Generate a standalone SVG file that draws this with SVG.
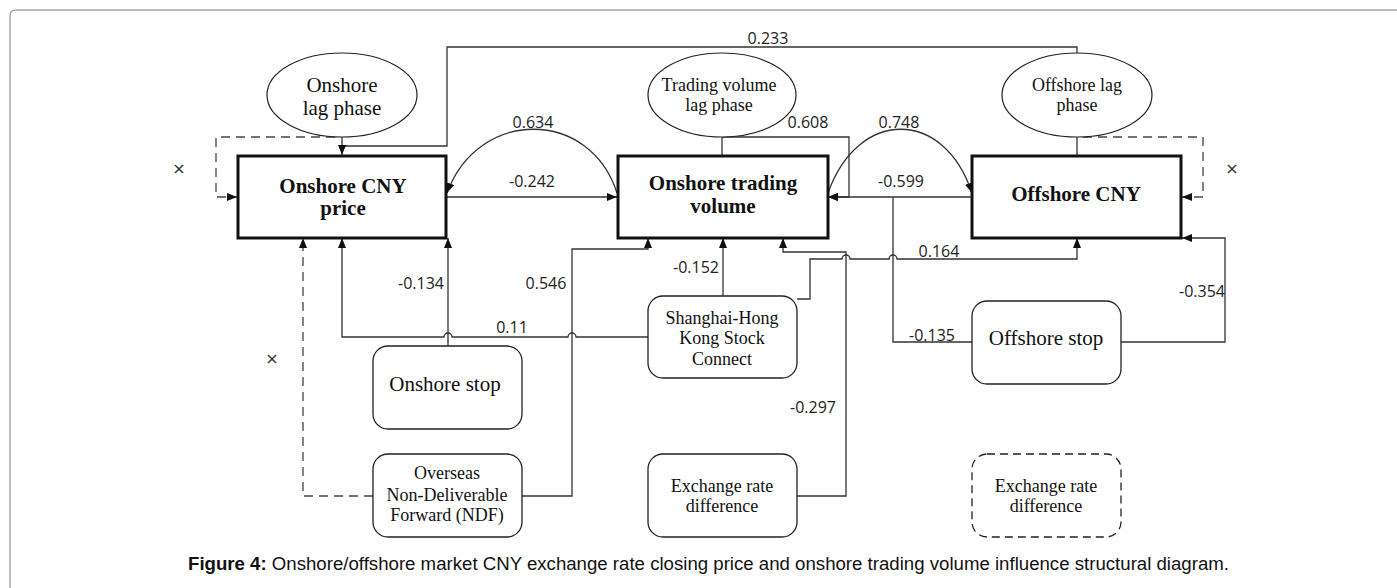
<svg xmlns="http://www.w3.org/2000/svg" width="1397" height="588" viewBox="0 0 1397 588">
<style>
.frame{fill:none;stroke:#a8a8a8;stroke-width:1.5}
.ell{fill:#fff;stroke:#222;stroke-width:1.2}
.bold{fill:#fff;stroke:#111;stroke-width:3}
.rbox{fill:#fff;stroke:#222;stroke-width:1.3}
.rdash{fill:#fff;stroke:#222;stroke-width:1.3;stroke-dasharray:8 5}
.c{fill:none;stroke:#333;stroke-width:1.3}
.cd{fill:none;stroke:#444;stroke-width:1.3;stroke-dasharray:9 6}
.a{marker-end:url(#ah)}
.t{font-family:"Liberation Serif","Times New Roman",serif;fill:#111;text-anchor:middle}
.t21{font-size:21px}
.t18{font-size:18px}
.tb{font-size:21px;font-weight:bold}
.n{font-family:"Open Sans","DejaVu Sans",sans-serif;font-size:16px;fill:#222;text-anchor:middle}
.x{font-family:"DejaVu Sans",sans-serif;font-size:16px;fill:#333;text-anchor:middle}
.cap{font-family:"Liberation Sans",Arial,sans-serif;font-size:17.5px;fill:#111}
</style>
<defs>
<marker id="ah" markerUnits="userSpaceOnUse" markerWidth="10" markerHeight="8" refX="10" refY="4" orient="auto">
<path d="M0,0 L10,4 L0,8 z" fill="#111"/>
</marker>
</defs>
<path class="frame" d="M10,588 V16 Q10,10 16,10 H1397"/>

<g id="connectors">
<!-- 0.233 offshore lag -> onshore CNY price -->
<path class="c" d="M1077,53 V47 H447 V146 H342"/>
<path class="c a" d="M342,137 V155"/>
<!-- onshore self loop dashed -->
<path class="cd a" d="M335,137 H216 V197 H237"/>
<!-- 0.634 arc -->
<path class="c a" d="M617,193 C590,108 478,108 447,193"/>
<!-- -0.242 -->
<path class="c a" d="M447,197 H617"/>
<!-- trading volume lag -->
<path class="c" d="M722,137 V155"/>
<path class="c a" d="M722,137 H849 V197 H828"/>
<!-- 0.748 arc -->
<path class="c a" d="M828,193 C858,108 944,108 972,193"/>
<!-- -0.599 -->
<path class="c a" d="M972,197 H828"/>
<!-- -0.135 offshore stop -->
<path class="c" d="M972,342 H893 V197"/>
<!-- offshore lag -->
<path class="c" d="M1077,137 V155"/>
<path class="cd a" d="M1083,137 H1203 V197 H1182"/>
<!-- 0.164 Shanghai -> offshore CNY -->
<path class="c a" d="M797,299 H810 V259 H842 A4,4 0 0 1 850,259 H889 A4,4 0 0 1 897,259 H1077 V238"/>
<!-- -0.354 offshore stop -> offshore CNY -->
<path class="c a" d="M1121,342 H1225 V238 H1182"/>
<!-- -0.152 Shanghai -> trading volume -->
<path class="c a" d="M723,296 V238"/>
<!-- -0.297 exchange rate difference -> trading volume -->
<path class="c a" d="M797,496 H846 V252 H783 V238"/>
<!-- 0.11 Shanghai -> onshore CNY -->
<path class="c a" d="M648,337 H576 A4,4 0 0 0 568,337 H452 A4,4 0 0 0 444,337 H342 V238"/>
<!-- -0.134 onshore stop -> onshore CNY -->
<path class="c a" d="M448,346 V238"/>
<!-- 0.546 NDF -> trading volume -->
<path class="c a" d="M522,496 H572 V249 H648 V238"/>
<!-- dashed NDF -> onshore CNY -->
<path class="cd a" d="M373,496 H303 V238"/>
</g>

<g id="labels">
<text class="n" x="768" y="44">0.233</text>
<text class="n" x="533" y="128">0.634</text>
<text class="n" x="532" y="187">-0.242</text>
<text class="n" x="808" y="128">0.608</text>
<text class="n" x="899" y="128">0.748</text>
<text class="n" x="901" y="187">-0.599</text>
<text class="n" x="421" y="289">-0.134</text>
<text class="n" x="546" y="289">0.546</text>
<text class="n" x="512" y="333">0.11</text>
<text class="n" x="696" y="273">-0.152</text>
<text class="n" x="939" y="257">0.164</text>
<text class="n" x="932" y="341">-0.135</text>
<text class="n" x="813" y="413">-0.297</text>
<text class="n" x="1202" y="297">-0.354</text>
<text class="x" x="179" y="174">×</text>
<text class="x" x="272" y="364">×</text>
<text class="x" x="1232" y="174">×</text>
</g>

<g id="onshore-lag">
<ellipse class="ell" cx="342" cy="95" rx="75" ry="42"/>
<text class="t t21" x="342" y="92">Onshore</text>
<text class="t t21" x="342" y="115">lag phase</text>
</g>
<g id="trading-lag">
<ellipse class="ell" cx="722" cy="95" rx="74" ry="42"/>
<text class="t t18" x="719" y="91">Trading volume</text>
<text class="t t18" x="719" y="111">lag phase</text>
</g>
<g id="offshore-lag">
<ellipse class="ell" cx="1077" cy="95" rx="75" ry="42"/>
<text class="t t18" x="1077" y="91">Offshore lag</text>
<text class="t t18" x="1077" y="111">phase</text>
</g>

<g id="onshore-cny">
<rect class="bold" x="238" y="156" width="208" height="82"/>
<text class="t tb" x="343" y="193">Onshore CNY</text>
<text class="t tb" x="343" y="215">price</text>
</g>
<g id="onshore-volume">
<rect class="bold" x="618" y="156" width="210" height="82"/>
<text class="t tb" x="723" y="190">Onshore trading</text>
<text class="t tb" x="723" y="213">volume</text>
</g>
<g id="offshore-cny">
<rect class="bold" x="972" y="156" width="209" height="82"/>
<text class="t tb" x="1076" y="201">Offshore CNY</text>
</g>

<g id="onshore-stop">
<rect class="rbox" x="373" y="346" width="149" height="83" rx="15"/>
<text class="t t21" x="445" y="391">Onshore stop</text>
</g>
<g id="shanghai-hk">
<rect class="rbox" x="648" y="296" width="149" height="82" rx="15"/>
<text class="t t18" x="722" y="324">Shanghai-Hong</text>
<text class="t t18" x="722" y="344">Kong Stock</text>
<text class="t t18" x="722" y="365">Connect</text>
</g>
<g id="offshore-stop">
<rect class="rbox" x="972" y="301" width="149" height="83" rx="15"/>
<text class="t t21" x="1046" y="345">Offshore stop</text>
</g>
<g id="ndf">
<rect class="rbox" x="373" y="454" width="149" height="83" rx="15"/>
<text class="t t18" x="447" y="479">Overseas</text>
<text class="t t18" x="447" y="501">Non-Deliverable</text>
<text class="t t18" x="447" y="521">Forward (NDF)</text>
</g>
<g id="exchange-diff">
<rect class="rbox" x="648" y="454" width="149" height="83" rx="15"/>
<text class="t t18" x="722" y="492">Exchange rate</text>
<text class="t t18" x="722" y="512">difference</text>
</g>
<g id="exchange-diff-dashed">
<rect class="rdash" x="972" y="454" width="149" height="83" rx="15"/>
<text class="t t18" x="1046" y="492">Exchange rate</text>
<text class="t t18" x="1046" y="512">difference</text>
</g>

<text class="cap" x="188" y="570" textLength="1041" lengthAdjust="spacingAndGlyphs"><tspan font-weight="bold">Figure 4:</tspan> Onshore/offshore market CNY exchange rate closing price and onshore trading volume influence structural diagram.</text>
</svg>
